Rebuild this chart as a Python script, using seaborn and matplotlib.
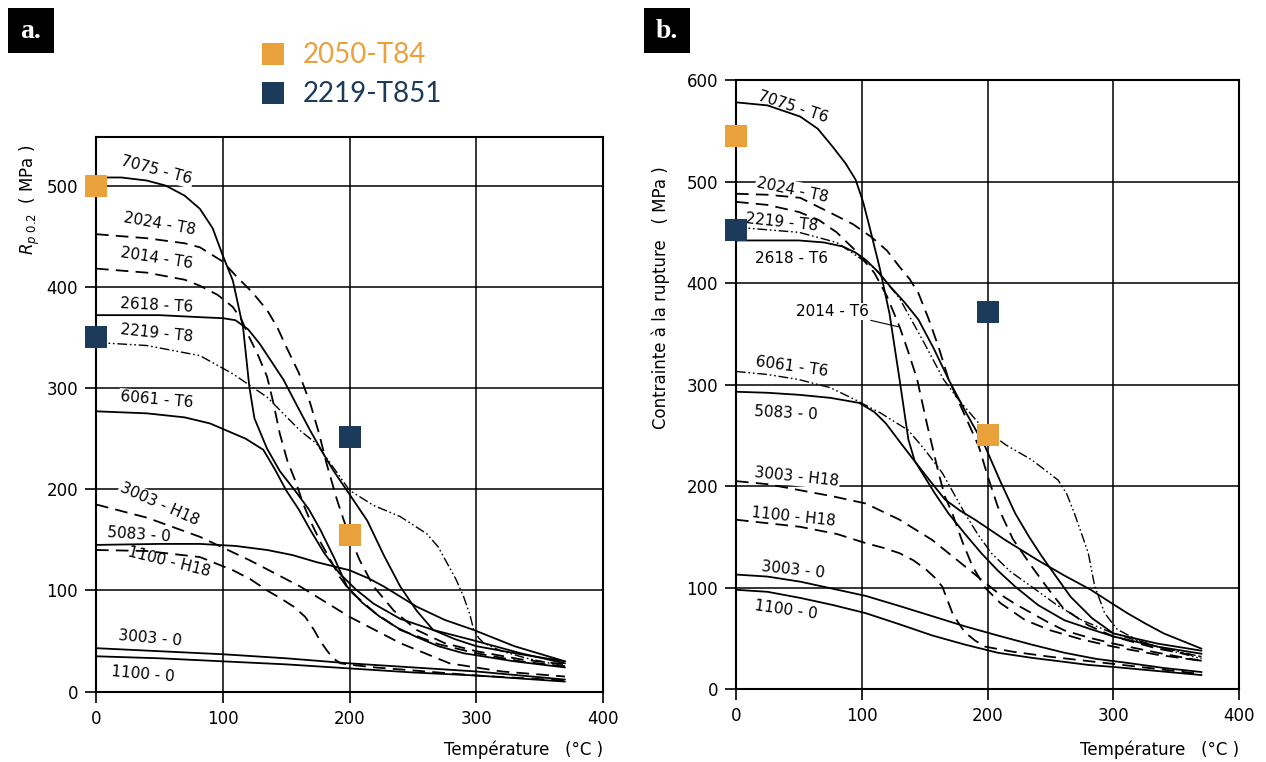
import matplotlib
matplotlib.use("Agg")
import matplotlib.pyplot as plt
import seaborn as sns
from matplotlib.patches import Rectangle

# ---- data: (temperature degC, stress MPa) ----
# a. yield strength Rp0.2
a_7075_T6 = ([0, 20, 40, 55, 70, 82, 92, 100, 108, 116, 121, 125, 129, 135, 145, 158, 168, 177, 188, 198, 210, 224, 238, 253, 270, 290, 330, 370],
             [508, 508, 505, 500, 490, 477, 458, 431, 406, 360, 301, 270, 258, 240, 218, 197, 180, 160, 132, 104, 88, 74, 63, 54, 45, 38, 30, 24])
a_2024_T8 = ([0, 40, 70, 82, 100, 111, 123, 135, 143, 150, 160, 169, 176, 182, 190, 198, 208, 219, 235, 253, 275, 300, 335, 370],
             [452, 448, 443, 439, 425, 410, 395, 377, 360, 341, 315, 285, 255, 225, 190, 160, 130, 104, 80, 61, 48, 40, 32, 27])
a_2014_T6 = ([0, 40, 70, 82, 96, 108, 115, 121, 128, 135, 140, 145, 151, 158, 163, 169, 177, 185, 192, 200, 220, 240, 270, 300, 335, 370],
             [418, 414, 407, 401, 392, 380, 367, 350, 332, 311, 285, 255, 228, 206, 187, 169, 148, 130, 114, 100, 78, 61, 47, 38, 30, 25])
a_2618_T6 = ([0, 50, 82, 100, 110, 120, 129, 138, 148, 158, 169, 178, 187, 200, 214, 227, 240, 253, 266, 283, 300, 335, 370],
             [372, 372, 370, 369, 367, 358, 344, 327, 308, 284, 258, 238, 219, 195, 169, 135, 104, 80, 61, 52, 45, 37, 30])
a_2219_T8 = ([0, 40, 82, 108, 135, 161, 174, 187, 200, 219, 240, 261, 270, 277, 284, 290, 295, 298, 302, 306, 320, 340, 370],
             [345, 342, 332, 314, 291, 258, 245, 222, 199, 184, 173, 156, 143, 127, 111, 94, 76, 61, 53, 48, 40, 33, 25])
a_6061_T6 = ([0, 40, 70, 90, 103, 118, 132, 141, 150, 160, 169, 180, 192, 205, 219, 240, 266, 300, 335, 370],
             [277, 275, 271, 265, 258, 250, 239, 220, 199, 180, 160, 137, 117, 101, 87, 72, 61, 50, 38, 28])
a_5083_O = ([0, 50, 82, 110, 135, 155, 174, 200, 215, 227, 240, 253, 275, 298, 330, 370],
            [145, 146, 146, 144, 140, 135, 128, 120, 112, 104, 94, 84, 71, 61, 45, 30])
a_3003_H18 = ([0, 40, 82, 121, 161, 200, 240, 279, 320, 370],
              [185, 172, 153, 130, 104, 74, 48, 28, 20, 15])
a_1100_H18 = ([0, 40, 82, 108, 122, 135, 146, 156, 165, 172, 177, 182, 187, 193, 205, 220, 260, 300, 370],
              [140, 139, 133, 120, 111, 100, 92, 84, 74, 61, 50, 41, 33, 28, 26, 24, 20, 16, 11])
a_3003_O = ([0, 50, 100, 150, 200, 250, 300, 370], [43, 40, 37, 33, 28, 24, 20, 12])
a_1100_O = ([0, 50, 100, 150, 200, 250, 300, 370], [35, 33, 30, 27, 23, 19, 16, 10])

# b. ultimate tensile strength
b_7075_T6 = ([0, 25, 51, 65, 77, 87, 95, 101, 106, 114, 122, 130, 137, 142, 148, 158, 169, 182, 195, 208, 222, 240, 261, 280, 300, 335, 370],
             [578, 575, 564, 552, 534, 518, 502, 480, 456, 416, 370, 305, 246, 225, 213, 193, 173, 153, 134, 117, 101, 83, 68, 60, 52, 42, 35])
b_2024_T8 = ([0, 25, 51, 77, 93, 108, 120, 130, 138, 145, 153, 161, 169, 180, 193, 200, 208, 220, 235, 248, 260, 280, 300, 335, 370],
             [488, 487, 484, 468, 458, 445, 432, 416, 404, 390, 365, 337, 305, 275, 239, 210, 180, 148, 121, 99, 80, 63, 52, 40, 32])
b_2014_T6 = ([0, 25, 50, 66, 80, 95, 110, 120, 130, 137, 144, 152, 161, 166, 172, 180, 188, 198, 210, 230, 250, 275, 300, 335, 370],
             [480, 477, 470, 462, 450, 432, 410, 387, 357, 332, 305, 260, 213, 190, 173, 145, 121, 100, 85, 68, 58, 49, 42, 34, 28])
b_2219_T8 = ([0, 50, 80, 110, 130, 150, 165, 177, 195, 214, 235, 256, 263, 269, 275, 280, 285, 293, 303, 320, 340, 370],
             [455, 450, 440, 415, 385, 340, 305, 285, 259, 241, 226, 206, 192, 173, 152, 134, 102, 75, 59, 48, 40, 30])
b_2618_T6 = ([0, 50, 70, 85, 95, 103, 113, 123, 134, 145, 157, 169, 183, 198, 210, 222, 233, 243, 255, 266, 283, 300, 335, 370],
             [442, 442, 440, 436, 430, 423, 411, 396, 381, 364, 336, 305, 272, 239, 205, 173, 150, 131, 110, 91, 70, 55, 45, 38])
b_6061_T6 = ([0, 25, 50, 75, 95, 115, 137, 150, 164, 173, 182, 192, 203, 218, 235, 255, 275, 300, 335, 370],
             [313, 310, 305, 297, 285, 272, 255, 236, 213, 193, 173, 153, 134, 116, 101, 83, 68, 55, 42, 32])
b_5083_O = ([0, 25, 50, 75, 98, 110, 119, 130, 143, 155, 166, 178, 190, 202, 214, 227, 240, 261, 282, 297, 311, 325, 340, 370],
            [293, 292, 290, 287, 282, 273, 262, 244, 223, 204, 187, 176, 167, 157, 147, 137, 127, 112, 98, 86, 75, 65, 55, 40])
b_3003_H18 = ([0, 25, 51, 77, 103, 130, 156, 169, 182, 195, 208, 222, 235, 248, 261, 280, 300, 335, 370],
              [205, 202, 196, 190, 183, 167, 147, 134, 121, 108, 95, 84, 75, 66, 58, 51, 45, 36, 28])
b_1100_H18 = ([0, 51, 80, 103, 118, 130, 141, 151, 158, 164, 168, 172, 177, 182, 190, 198, 220, 250, 300, 370],
              [167, 160, 153, 144, 139, 134, 127, 118, 110, 101, 88, 75, 65, 56, 48, 42, 37, 32, 25, 15])
b_3003_O = ([0, 25, 51, 77, 103, 130, 156, 182, 208, 235, 261, 286, 311, 340, 370],
            [113, 111, 106, 99, 92, 82, 72, 62, 53, 44, 36, 30, 26, 21, 17])
b_1100_O = ([0, 25, 51, 77, 103, 130, 156, 182, 208, 235, 261, 280, 300, 335, 370],
            [98, 96, 90, 83, 75, 64, 53, 44, 36, 31, 27, 24, 22, 18, 14])

# new alloys (square markers)
new_alloys = ["2050-T84", "2219-T851"]
a_pts_T = [[0, 200], [0, 200]]
a_pts_v = [[500, 155], [350, 252]]
b_pts_T = [[0, 200], [0, 200]]
b_pts_v = [[545, 250], [452, 372]]

ORANGE = "#E9A13B"
NAVY = "#1C3B5A"

SOLID = "-"
DASH = (0, (7, 4))
DDOT = (0, (7, 2, 1.2, 2, 1.2, 2))

# name, data, style, label position (T, v), rotation
curves_a = [
    ("7075 - T6", a_7075_T6, SOLID, (48, 515), -15),
    ("2024 - T8", a_2024_T8, DASH, (50, 462), -10),
    ("2014 - T6", a_2014_T6, DASH, (48, 428), -9),
    ("2618 - T6", a_2618_T6, SOLID, (48, 382), -3),
    ("2219 - T8", a_2219_T8, DDOT, (48, 354), -6),
    ("6061 - T6", a_6061_T6, SOLID, (48, 288), -5),
    ("3003 - H18", a_3003_H18, DASH, (50, 185), -24),
    ("5083 - 0", a_5083_O, SOLID, (34, 155), -4),
    ("1100 - H18", a_1100_H18, DASH, (58, 128), -14),
    ("3003 - 0", a_3003_O, SOLID, (43, 53), -5),
    ("1100 - 0", a_1100_O, SOLID, (37, 17), -5),
]
curves_b = [
    ("7075 - T6", b_7075_T6, SOLID, (45, 573), -18),
    ("2024 - T8", b_2024_T8, DASH, (45, 492), -12),
    ("2014 - T6", b_2014_T6, DASH, None, 0),
    ("2219 - T8", b_2219_T8, DDOT, (36, 460), -6),
    ("2618 - T6", b_2618_T6, SOLID, (44, 424), 0),
    ("6061 - T6", b_6061_T6, DDOT, (44, 318), -8),
    ("5083 - 0", b_5083_O, SOLID, (40, 272), -3),
    ("3003 - H18", b_3003_H18, DASH, (48, 209), -6),
    ("1100 - H18", b_1100_H18, DASH, (46, 170), -6),
    ("3003 - 0", b_3003_O, SOLID, (45, 118), -6),
    ("1100 - 0", b_1100_O, SOLID, (40, 78), -8),
]

sns.set_style("white")
plt.rcParams["font.family"] = ["DejaVu Sans"]
plt.rcParams["text.color"] = "black"

fig = plt.figure(figsize=(12.66, 7.62), dpi=100)
ax_a = fig.add_axes([96 / 1266, 1 - 691.7 / 762, 507 / 1266, 554.7 / 762])
ax_b = fig.add_axes([736 / 1266, 1 - 689.3 / 762, 503.3 / 1266, 609.3 / 762])


def draw_panel(ax, curves, pts_T, pts_v, ymax):
    for name, (T, v), ls, pos, rot in curves:
        lw = 1.0 if ls == DDOT else 1.3
        sns.lineplot(x=T, y=v, ax=ax, color="black", lw=lw, linestyle=ls,
                     sort=False, estimator=None, zorder=3)
        if pos is not None:
            ax.text(pos[0], pos[1], name, fontsize=11, rotation=rot,
                    ha="center", va="center", zorder=2.5,
                    bbox=dict(fc="white", ec="none", pad=1.0))
    for Ts, vs, c in zip(pts_T, pts_v, [ORANGE, NAVY]):
        sns.scatterplot(x=Ts, y=vs, ax=ax, marker="s", s=260, color=c,
                        linewidth=0, zorder=5, clip_on=False)
    ax.set_xlim(0, 400)
    ax.set_ylim(0, ymax)
    ax.set_xticks(range(0, 401, 100))
    ax.set_yticks(range(0, int(ymax) + 1, 100))
    ax.set_axisbelow(True)
    ax.grid(True, color="black", lw=1.1)
    ax.tick_params(direction="out", length=8, width=1.2, labelsize=12,
                   colors="black", left=True, bottom=True, pad=5)
    for sp in ax.spines.values():
        sp.set_color("black")
        sp.set_linewidth(1.5)
    ax.set_xlabel("")
    ax.set_ylabel("")


draw_panel(ax_a, curves_a, a_pts_T, a_pts_v, 548)
draw_panel(ax_b, curves_b, b_pts_T, b_pts_v, 600)

# leader for 2014 - T6 in panel b
ax_b.annotate("2014 - T6", xy=(129, 357), xytext=(77, 372), fontsize=11,
              ha="center", va="center", zorder=2.5,
              bbox=dict(fc="white", ec="none", pad=1.0),
              arrowprops=dict(arrowstyle="-", color="black", lw=0.8,
                              shrinkA=0, shrinkB=0))

# axis titles
fig.text(30 / 1266, 1 - 200 / 762, r"$R_{p\ 0.2}$  ( MPa )", rotation=90,
         ha="center", va="center", fontsize=12)
fig.text(661 / 1266, 1 - 298 / 762, "Contrainte à la rupture   ( MPa )",
         rotation=90, ha="center", va="center", fontsize=12)
fig.text(603 / 1266, 1 - 750 / 762, "Température   (°C )", ha="right",
         va="center", fontsize=12)
fig.text(1239 / 1266, 1 - 750 / 762, "Température   (°C )", ha="right",
         va="center", fontsize=12)

# panel tags
for x0, tag in [(8, "a."), (644, "b.")]:
    fig.patches.append(Rectangle((x0 / 1266, 1 - 53 / 762), 46 / 1266, 45 / 762,
                                 transform=fig.transFigure, fc="black", ec="none"))
    fig.text((x0 + 23) / 1266, 1 - 32 / 762, tag, color="white", fontsize=20,
             fontweight="bold", ha="center", va="center",
             family=["Liberation Serif", "DejaVu Serif"])

# legend
for yy, name, c in [(54, new_alloys[0], ORANGE), (93, new_alloys[1], NAVY)]:
    fig.patches.append(Rectangle((262 / 1266, 1 - (yy + 11) / 762), 22 / 1266, 22 / 762,
                                 transform=fig.transFigure, fc=c, ec="none"))
    fig.text(303 / 1266, 1 - (yy + 1) / 762, name, color=c, fontsize=20,
             ha="left", va="center", family=["Lato", "DejaVu Sans"])

fig.savefig("out.png", dpi=100)
